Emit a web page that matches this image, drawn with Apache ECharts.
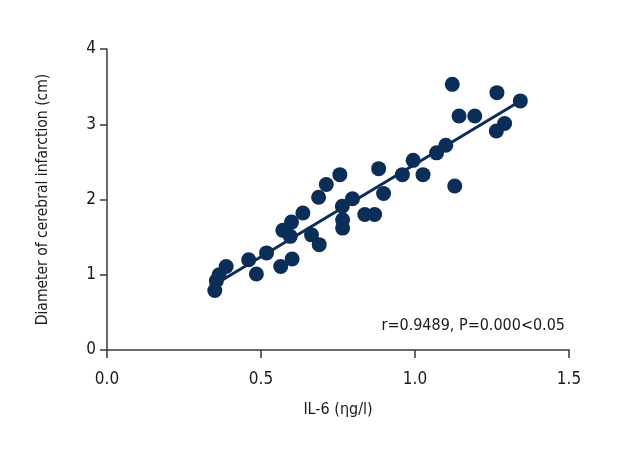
<!DOCTYPE html>
<html>
<head>
<meta charset="utf-8">
<script src="https://cdn.jsdelivr.net/npm/echarts@6/dist/echarts.min.js"></script>
<style>html,body{margin:0;padding:0;background:#fff}#c{width:620px;height:460px}</style>
</head>
<body>
<div id="c"></div>
<script>
// IL-6 values (x) and infarction diameter (y)
var il6 = [0.350,0.355,0.364,0.387,0.460,0.485,0.518,0.564,0.601,0.571,0.599,0.595,0.636,0.664,0.689,0.687,0.712,0.756,0.764,0.765,0.765,0.797,0.837,0.869,0.882,0.898,0.959,0.994,1.026,1.070,1.100,1.121,1.129,1.143,1.194,1.266,1.264,1.291,1.342];
var diameter = [0.79,0.92,1.00,1.11,1.20,1.01,1.29,1.11,1.21,1.59,1.70,1.51,1.82,1.53,1.40,2.03,2.20,2.33,1.91,1.73,1.62,2.01,1.80,1.80,2.41,2.08,2.33,2.52,2.33,2.62,2.72,3.53,2.18,3.11,3.11,3.42,2.91,3.01,3.31];
// fitted regression line endpoints
var fitX = [0.35, 1.342];
var fitY = [0.87, 3.31];
var xTicks = [0.0, 0.5, 1.0, 1.5];
var yTicks = [0, 1, 2, 3, 4];
var annotation = 'r=0.9489, P=0.000<0.05';

var FONT = "'DejaVu Sans Condensed','Liberation Sans Narrow',sans-serif";
var pts = il6.map(function(v,i){return [v, diameter[i]];});
var line = fitX.map(function(v,i){return [v, fitY[i]];});
var axisCol = '#3a3a3a';
var chart = echarts.init(document.getElementById('c'));
chart.setOption({
  animation:false,
  grid:{left:107, right:51, top:49, bottom:110},
  xAxis:{
    type:'value', min:xTicks[0], max:xTicks[xTicks.length-1], interval:0.5,
    name:'IL-6 (ηg/l)', nameLocation:'middle', nameGap:52,
    nameTextStyle:{fontFamily:FONT, fontSize:16, color:'#1a1a1a'},
    axisLine:{onZero:false, lineStyle:{color:axisCol, width:1.5}},
    axisTick:{show:true, length:8, inside:false, lineStyle:{color:axisCol, width:1.5}},
    axisLabel:{fontFamily:FONT, fontSize:17, color:'#1a1a1a', margin:21, formatter:function(v){return v.toFixed(1);}},
    splitLine:{show:false}
  },
  yAxis:{
    type:'value', min:yTicks[0], max:yTicks[yTicks.length-1], interval:1,
    name:'Diameter of cerebral infarction (cm)', nameLocation:'middle', nameGap:56,
    nameTextStyle:{fontFamily:FONT, fontSize:15.5, color:'#1a1a1a'},
    axisLine:{show:true, onZero:false, lineStyle:{color:axisCol, width:1.5}},
    axisTick:{show:true, length:7, lineStyle:{color:axisCol, width:1.5}},
    axisLabel:{fontFamily:FONT, fontSize:17, color:'#1a1a1a', margin:11},
    splitLine:{show:false}
  },
  graphic:[{
    type:'text', right:55, top:318,
    style:{text:annotation, fontFamily:FONT, fontSize:16, fill:'#1a1a1a'}
  }],
  series:[
    {type:'line', data:line, symbol:'none', lineStyle:{color:'#0b2e59', width:3}, z:1},
    {type:'scatter', data:pts, symbol:'circle', symbolSize:15, itemStyle:{color:'#0b2e59', opacity:1}, z:2}
  ]
});
</script>
</body>
</html>
